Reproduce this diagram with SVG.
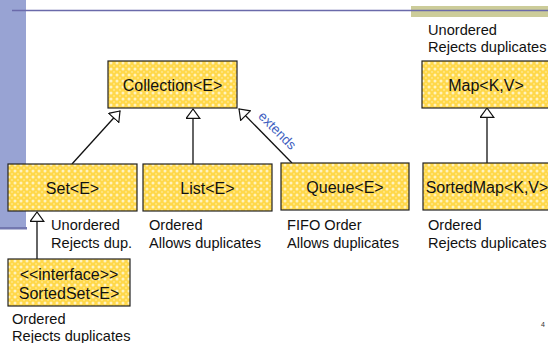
<svg xmlns="http://www.w3.org/2000/svg" width="548" height="343" viewBox="0 0 548 343">
<style>
.box{fill:url(#hatch);stroke:#222;stroke-width:1.2}
.bt{font-family:"Liberation Sans",Arial,sans-serif;font-size:16px;fill:#111;text-anchor:middle}
.lb{font-family:"Liberation Sans",Arial,sans-serif;font-size:14.6px;fill:#111}
.ln{stroke:#111;stroke-width:1.3;fill:none}
</style>
<defs>
<pattern id="hatch" width="6" height="6" patternUnits="userSpaceOnUse">
<rect width="6" height="6" fill="#ffd84a"/>
<circle cx="3" cy="3" r="1.5" fill="#fff3c0"/>
<circle cx="0" cy="0" r="0.9" fill="#ffe98f"/>
<circle cx="6" cy="0" r="0.9" fill="#ffe98f"/>
<circle cx="0" cy="6" r="0.9" fill="#ffe98f"/>
<circle cx="6" cy="6" r="0.9" fill="#ffe98f"/>
</pattern>
<marker id="tri" viewBox="0 0 11 15" refX="10" refY="7.5" markerWidth="11" markerHeight="15" markerUnits="userSpaceOnUse" orient="auto">
<path d="M10,7.5 L0.7,0.7 L0.7,14.3 Z" fill="#fff" stroke="#111" stroke-width="1.2"/>
</marker>
</defs>
<rect width="548" height="343" fill="#fff"/>
<g id="decor">
<rect x="0" y="0" width="26" height="229" fill="#98a3d3"/>
<rect x="0" y="227" width="27" height="2.5" fill="#7378b0"/>
<rect x="411" y="6" width="137" height="11" fill="#cccc99"/>
<line x1="12" y1="10.5" x2="548" y2="10.5" stroke="#6a6aaa" stroke-width="1.3"/>
<text x="541" y="327" font-family="'Liberation Sans',Arial,sans-serif" font-size="7" fill="#333">4</text>
</g>
<g id="connectors">
<line class="ln" x1="72" y1="164" x2="120" y2="111" marker-end="url(#tri)"/>
<line class="ln" x1="193" y1="164" x2="193" y2="109" marker-end="url(#tri)"/>
<line class="ln" x1="292" y1="163" x2="239" y2="109" marker-end="url(#tri)"/>
<line class="ln" x1="37" y1="259" x2="37" y2="212" marker-end="url(#tri)"/>
<line class="ln" x1="487" y1="163" x2="487" y2="108" marker-end="url(#tri)"/>
<text transform="translate(277,131) rotate(45)" font-family="'Liberation Sans',Arial,sans-serif" font-size="13.5" fill="#3f5fbf" text-anchor="middle" dy="4">extends</text>
</g>
<g id="collection"><rect class="box" x="108" y="61" width="129" height="47"/><text class="bt" x="172.5" y="90.5">Collection&lt;E&gt;</text></g>
<g id="set"><rect class="box" x="8" y="164" width="129" height="47"/><text class="bt" x="72.5" y="193.5">Set&lt;E&gt;</text></g>
<g id="list"><rect class="box" x="143" y="164" width="129" height="47"/><text class="bt" x="207.5" y="193.5">List&lt;E&gt;</text></g>
<g id="queue"><rect class="box" x="281" y="163" width="128" height="47"/><text class="bt" x="345" y="192.5">Queue&lt;E&gt;</text></g>
<g id="map"><rect class="box" x="422" y="61" width="130" height="47"/><text class="bt" x="486" y="90.5">Map&lt;K,V&gt;</text></g>
<g id="sortedmap"><rect class="box" x="423" y="163" width="129" height="47"/><text class="bt" x="487" y="192.5">SortedMap&lt;K,V&gt;</text></g>
<g id="sortedset"><rect class="box" x="8" y="259" width="122" height="47"/><text class="bt" x="69" y="280">&lt;&lt;interface&gt;&gt;</text><text class="bt" x="69" y="299">SortedSet&lt;E&gt;</text></g>
<g id="labels">
<text class="lb" x="51" y="230">Unordered</text><text class="lb" x="51" y="248">Rejects dup.</text>
<text class="lb" x="149" y="230">Ordered</text><text class="lb" x="149" y="248">Allows duplicates</text>
<text class="lb" x="287" y="230">FIFO Order</text><text class="lb" x="287" y="248">Allows duplicates</text>
<text class="lb" x="428" y="230">Ordered</text><text class="lb" x="428" y="248">Rejects duplicates</text>
<text class="lb" x="12" y="324">Ordered</text><text class="lb" x="12" y="341">Rejects duplicates</text>
<text class="lb" x="428" y="35">Unordered</text><text class="lb" x="428" y="52">Rejects duplicates</text>
</g>
</svg>
